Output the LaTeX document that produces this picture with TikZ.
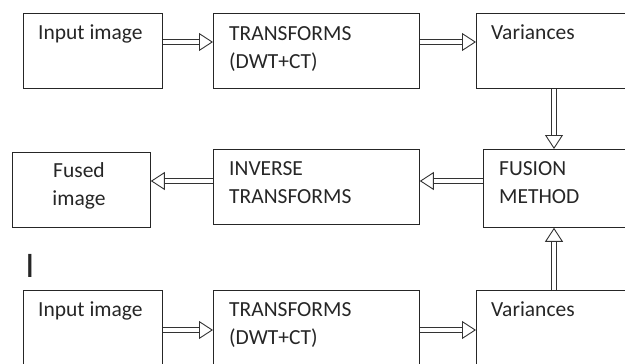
\documentclass[tikz,border=0pt]{standalone}
\usepackage{fontspec}
\setmainfont{Carlito}
\usetikzlibrary{arrows.meta,positioning}

\begin{document}
\begin{tikzpicture}[
        x=1pt, y=-1pt,
        blk/.style={draw=black!85, line width=0.8pt, anchor=north west, inner sep=0pt,
            minimum width=#1, minimum height=75pt},
        txt/.style={anchor=base west, align=left, inner sep=0pt, text=black!85,
            font=\fontsize{21.5}{28}\selectfont},
        dbl/.style={draw=black!80, double, double distance=4.5pt, line width=0.9pt,
            -{Triangle[open,length=14pt,width=18pt,line width=0.9pt]}}
    ]
        \useasboundingbox (0,0) rectangle (625,364);
        \clip (0,0) rectangle (625,364);

        % top row
        \node [blk=139pt] (in1) at (23,13) {};
        \node [blk=206pt] (tr1) at (213,13) {};
        \node [blk=170pt] (va1) at (476,13) {};
        \node [txt] (in1t) at (38,39) {Input image};
        \node [txt] (tr1t) at (229,68) {TRANSFORMS\\(DWT+CT)};
        \node [txt] (va1t) at (491,39) {Variances};

        % middle row
        \node [blk=138pt] (fu) at (12,152) {};
        \node [blk=206pt] (inv) at (213,149) {};
        \node [blk=160pt,minimum height=78pt] (fm) at (483,149) {};
        \node [txt,anchor=base,align=center] (fut) at (79,205) {Fused\\image};
        \node [txt] (invt) at (229,203) {INVERSE\\TRANSFORMS};
        \node [txt] (fmt) at (499,203) {FUSION\\METHOD};

        \node [anchor=base,inner sep=0pt,text=black!85,font=\fontsize{36}{36}\selectfont] (cur) at (30,277) {I};

        % bottom row
        \node [blk=139pt] (in2) at (23,290) {};
        \node [blk=206pt] (tr2) at (213,290) {};
        \node [blk=170pt] (va2) at (476,290) {};
        \node [txt] (in2t) at (38,316) {Input image};
        \node [txt] (tr2t) at (229,344) {TRANSFORMS\\(DWT+CT)};
        \node [txt] (va2t) at (491,316) {Variances};

        % arrows
        \draw [dbl] ([yshift=-29pt]in1.north east) -- ([yshift=-29pt]tr1.north west);
        \draw [dbl] ([yshift=-29pt]tr1.north east) -- ([yshift=-29pt]va1.north west);
        \draw [dbl] ([xshift=78pt]va1.south west) -- ([xshift=71pt]fm.north west);
        \draw [dbl] ([yshift=-32pt]fm.north west) -- ([yshift=-32pt]inv.north east);
        \draw [dbl] ([yshift=-32pt]inv.north west) -- ([yshift=-29pt]fu.north east);
        \draw [dbl] ([xshift=78pt]va2.north west) -- ([xshift=71pt]fm.south west);
        \draw [dbl] ([yshift=-40pt]in2.north east) -- ([yshift=-40pt]tr2.north west);
        \draw [dbl] ([yshift=-40pt]tr2.north east) -- ([yshift=-40pt]va2.north west);
    \end{tikzpicture}
\end{document}
